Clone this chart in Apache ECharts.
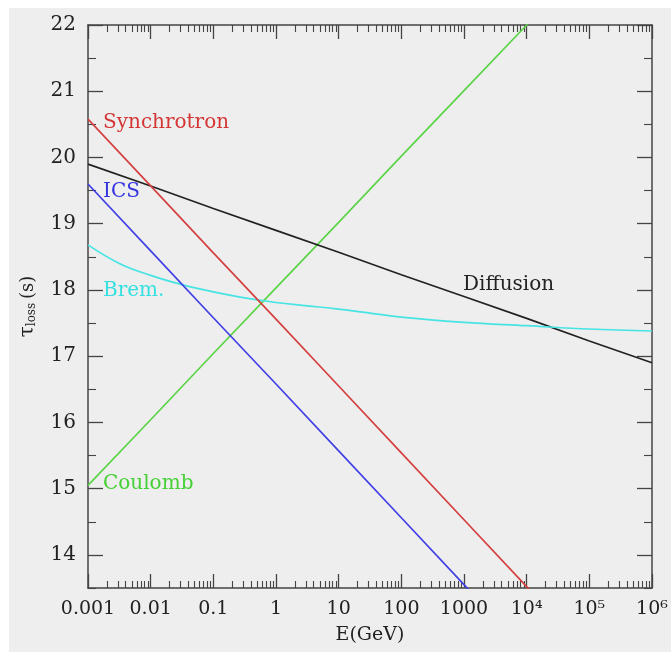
<!DOCTYPE html>
<html>
<head>
<meta charset="utf-8">
<script src="https://cdn.jsdelivr.net/npm/echarts@6/dist/echarts.min.js"></script>
<style>
html,body{margin:0;padding:0;background:#fff;}
#c{position:absolute;left:9px;top:8px;width:662px;height:644px;background:#eeeeee;}
</style>
</head>
<body>
<div id="c"></div>
<script>
// Energies in GeV (decades)
const energies = [0.001, 0.01, 0.1, 1, 10, 100, 1000, 1e4, 1e5, 1e6];
const synchrotron = [20.58, 19.57, 18.56, 17.56, 16.55, 15.54, 14.53, 13.52, 12.52, 11.51];
const ics         = [19.60, 18.59, 17.58, 16.58, 15.57, 14.56, 13.55, 12.55, 11.54, 10.53];
const coulomb     = [15.05, 16.04, 17.04, 18.03, 19.02, 20.02, 21.01, 22.00, 22.99, 23.99];
const diffusion   = [19.90, 19.57, 19.23, 18.90, 18.57, 18.23, 17.90, 17.57, 17.23, 16.90];
// Bremsstrahlung (curved)
const bremE = [0.001, 0.00316, 0.01, 0.0316, 0.1, 0.316, 1, 3.16, 10, 31.6, 100, 1000, 1e4, 1e5, 1e6];
const brem  = [18.68, 18.40, 18.22, 18.08, 17.97, 17.88, 17.81, 17.76, 17.71, 17.65, 17.59, 17.51, 17.46, 17.41, 17.38];

const xTickLabels = {'-3':'0.001','-2':'0.01','-1':'0.1','0':'1','1':'10','2':'100','3':'1000','4':'10\u2074','5':'10\u2075','6':'10\u2076'};
const yTicks = [14, 15, 16, 17, 18, 19, 20, 21, 22];
const yMinorTicks = [13.5, 14.5, 15.5, 16.5, 17.5, 18.5, 19.5, 20.5, 21.5];
const yMin = 13.5, yMax = 22;

const minorX = [];
for (let d = -3; d < 6; d++) for (let k = 2; k <= 9; k++) minorX.push(d + Math.log10(k));

function pts(es, vs){ return es.map((e,i)=>[Math.log10(e), vs[i]]); }

const axisCol = '#444';
const font = 'DejaVu Serif';
function xAx(pos, major){
  return {
    type:'value', position:pos, min:-3, max:6, interval:1,
    axisLine:{show:major, onZero:false, lineStyle:{color:axisCol, width:1.5}},
    splitLine:{show:false},
    axisTick: major ? {inside:true, length:14, lineStyle:{color:axisCol, width:1.3}}
                    : {inside:true, length:7, customValues:minorX, lineStyle:{color:axisCol, width:1.1}},
    axisLabel: (major && pos==='bottom') ? {show:true, margin:12, color:'#222', fontFamily:font, fontSize:19,
        formatter:v=>xTickLabels[String(Math.round(v))]||''} : {show:false},
    name: (major && pos==='bottom') ? 'E(GeV)' : '',
    nameLocation:'middle', nameGap:38, nameTextStyle:{color:'#222', fontFamily:font, fontSize:19}
  };
}
function yAx(pos, major){
  const lab = major && pos==='left';
  return {
    type:'value', position:pos, min:yMin, max:yMax,
    axisLine:{show:major, onZero:false, lineStyle:{color:axisCol, width:1.5}},
    splitLine:{show:false},
    axisTick: major ? {inside:true, length:15, customValues:yTicks, lineStyle:{color:axisCol, width:1.3}}
                    : {inside:true, length:8, customValues:yMinorTicks, lineStyle:{color:axisCol, width:1.1}},
    axisLabel: lab ? {show:true, margin:12, color:'#222', fontFamily:font, fontSize:20, customValues:yTicks,
        formatter:v=>String(Math.round(v))} : {show:false},
    name: lab ? '{t|τ}{s|loss} {n|(s)}' : '',
    nameLocation:'middle', nameRotate:90, nameGap:50,
    nameTextStyle: {color:'#222', fontFamily:font, rich:{
      t:{fontSize:20, fontFamily:font, color:'#222'},
      s:{fontSize:12, fontFamily:font, color:'#222', verticalAlign:'bottom', padding:[8,0,0,0]},
      n:{fontSize:18, fontFamily:font, color:'#222'}}}
  };
}

function ln(name, data, color){
  return {name, type:'line', data, xAxisIndex:0, yAxisIndex:0, showSymbol:false, symbol:'none',
    clip:true, smooth: name==='Brem.' ? 0.4 : false, lineStyle:{color, width:1.7}, silent:true};
}

const chart = echarts.init(document.getElementById('c'), null, {renderer:'canvas'});
const labelStyle = (c)=>({fontFamily:font, fontSize:20, fill:c});
chart.setOption({
  animation:false,
  grid:{left:79, right:19, top:17, bottom:64},
  xAxis:[xAx('bottom',true), xAx('bottom',false), xAx('top',true), xAx('top',false)],
  yAxis:[yAx('left',true), yAx('left',false), yAx('right',true), yAx('right',false)],
  series:[
    ln('Coulomb', pts(energies, coulomb), '#5bd447'),
    ln('Diffusion', pts(energies, diffusion), '#222222'),
    ln('Brem.', pts(bremE, brem), '#47e4e4'),
    ln('ICS', pts(energies, ics), '#4040e6'),
    ln('Synchrotron', pts(energies, synchrotron), '#d44040')
  ],
  graphic:[
    {type:'text', left:94, top:105, style:Object.assign({text:'Synchrotron'}, labelStyle('#d43535'))},
    {type:'text', left:94, top:174, style:Object.assign({text:'ICS'}, labelStyle('#3535e0'))},
    {type:'text', left:94, top:273, style:Object.assign({text:'Brem.'}, labelStyle('#35e0e0'))},
    {type:'text', left:454, top:267, style:Object.assign({text:'Diffusion'}, labelStyle('#222222'))},
    {type:'text', left:94, top:466, style:Object.assign({text:'Coulomb'}, labelStyle('#45d035'))}
  ]
});
</script>
</body>
</html>
